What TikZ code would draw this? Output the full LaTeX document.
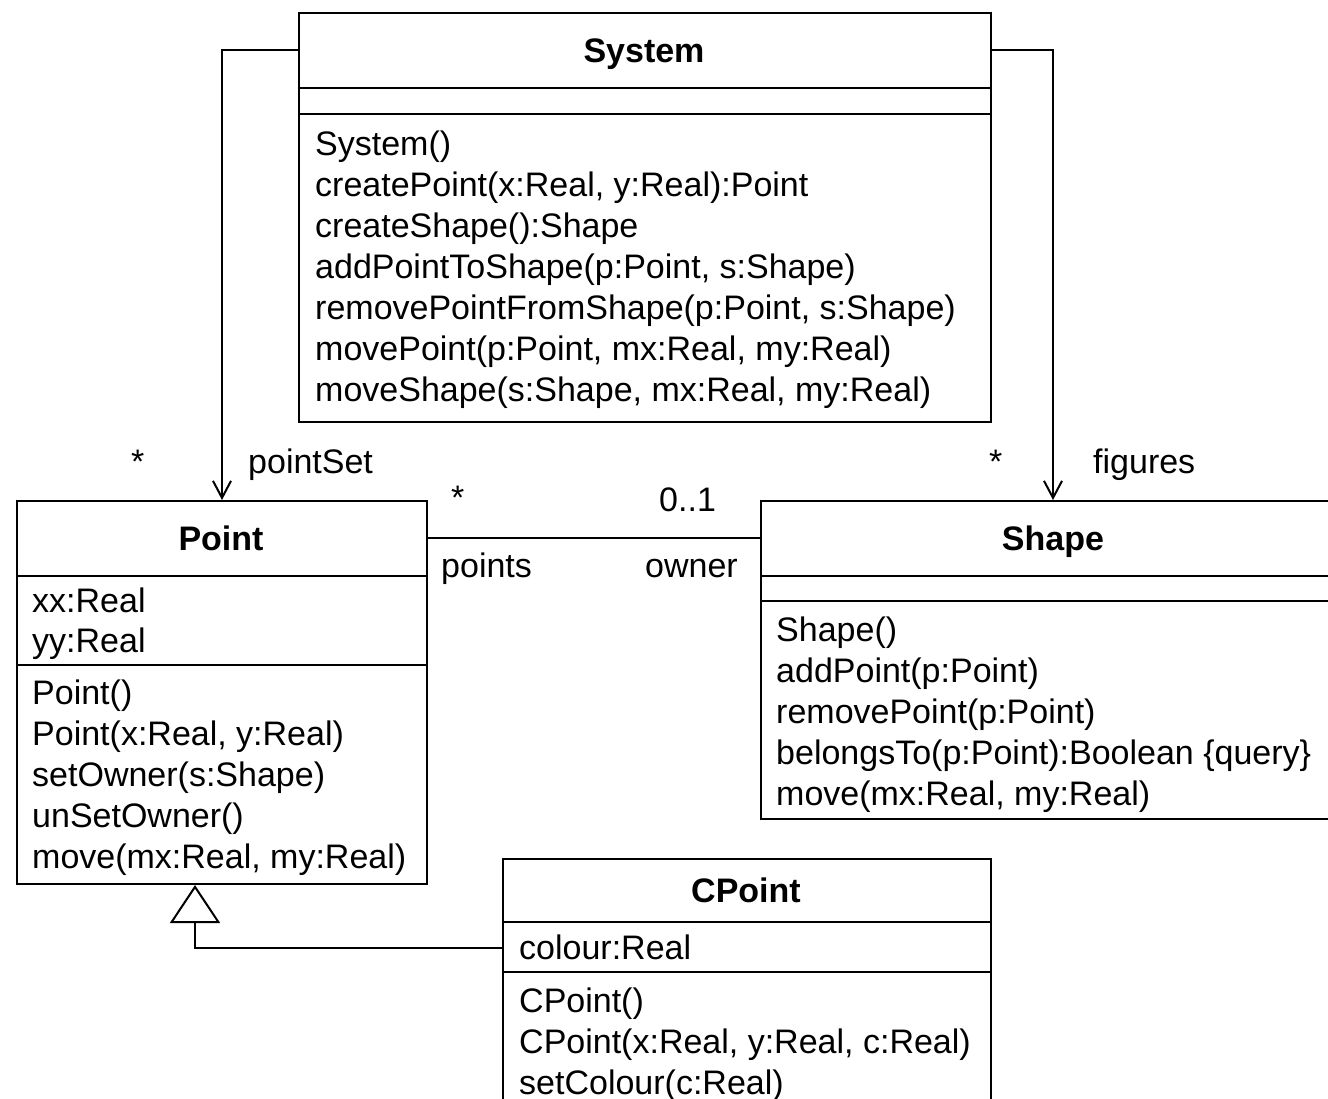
\documentclass[tikz,border=0pt]{standalone}
\usepackage{fontspec}
\setmainfont{Liberation Sans}
\usetikzlibrary{arrows.meta}
\begin{document}
\begin{tikzpicture}[x=1pt,y=-1pt,
  cls/.style={draw, line width=2pt, inner sep=0pt, anchor=north west},
  rule/.style={line width=2pt},
  txt/.style={anchor=base west, inner sep=0pt, font=\fontsize{34}{41}\selectfont},
  ttl/.style={anchor=base, inner sep=0pt, font=\fontsize{34}{41}\selectfont\bfseries},
  lbl/.style={anchor=base west, inner sep=0pt, font=\fontsize{34}{41}\selectfont},
  link/.style={line width=2pt},
  nav/.style={link, -{Straight Barb[length=17pt, width=18pt]}},
  gen/.style={link, -{Triangle[open, length=38pt, width=50pt]}}]
\useasboundingbox (0,0) rectangle (1328,1098);
\clip (0,0) rectangle (1328,1098);

% class boxes
\node[cls, minimum width=692pt, minimum height=409pt] (sys) at (298,12) {};
\node[cls, minimum width=410pt, minimum height=383pt] (pt) at (16,500) {};
\node[cls, minimum width=586pt, minimum height=318pt] (sh) at (760,500) {};
\node[cls, minimum width=488pt, minimum height=300pt] (cp) at (502,858) {};

% compartment rules
\draw[rule] (sys.west |- 0,88) -- (sys.east |- 0,88);
\draw[rule] (sys.west |- 0,114) -- (sys.east |- 0,114);
\draw[rule] (pt.west |- 0,576) -- (pt.east |- 0,576);
\draw[rule] (pt.west |- 0,665) -- (pt.east |- 0,665);
\draw[rule] (sh.west |- 0,576) -- (sh.east |- 0,576);
\draw[rule] (sh.west |- 0,601) -- (sh.east |- 0,601);
\draw[rule] (cp.west |- 0,922) -- (cp.east |- 0,922);
\draw[rule] (cp.west |- 0,972) -- (cp.east |- 0,972);

% class names
\node[ttl] (systitle) at (644,62) {System};
\node[ttl] (pttitle) at (221,550) {Point};
\node[ttl] (shtitle) at (1053,550) {Shape};
\node[ttl] (cptitle) at (746,902) {CPoint};

% System operations
\foreach \t [count=\i] in {{System()},{createPoint(x:Real, y:Real):Point},{createShape():Shape},
  {addPointToShape(p:Point, s:Shape)},{removePointFromShape(p:Point, s:Shape)},
  {movePoint(p:Point, mx:Real, my:Real)},{moveShape(s:Shape, mx:Real, my:Real)}}
  \node[txt] (sysop\i) at (315,114+41*\i) {\t};

% Point attributes and operations
\node[txt] (ptat1) at (32,612) {xx:Real};
\node[txt] (ptat2) at (32,652) {yy:Real};
\foreach \t [count=\i] in {{Point()},{Point(x:Real, y:Real)},{setOwner(s:Shape)},
  {unSetOwner()},{move(mx:Real, my:Real)}}
  \node[txt] (ptop\i) at (32,663+41*\i) {\t};

% Shape operations
\foreach \t [count=\i] in {{Shape()},{addPoint(p:Point)},{removePoint(p:Point)},
  {belongsTo(p:Point):Boolean \{query\}},{move(mx:Real, my:Real)}}
  \node[txt] (shop\i) at (776,600+41*\i) {\t};

% CPoint attribute and operations
\node[txt] (cpat1) at (519,959) {colour:Real};
\foreach \t [count=\i] in {{CPoint()},{CPoint(x:Real, y:Real, c:Real)},{setColour(c:Real)}}
  \node[txt] (cpop\i) at (519,971+41*\i) {\t};

% navigable associations from System
\draw[nav] (sys.west |- 0,50) -| (pt.north);
\draw[nav] (sys.east |- 0,50) -| (sh.north -| 1053,0);
\node[lbl] (m1) at (131,473) {*};
\node[lbl] (r1) at (248,473) {pointSet};
\node[lbl] (m2) at (989,473) {*};
\node[lbl] (r2) at (1093,473) {figures};

% Point -- Shape association
\draw[link] (pt.east |- 0,538) -- (sh.west |- 0,538);
\node[lbl] (m3) at (451,509) {*};
\node[lbl] (m4) at (659,511) {0..1};
\node[lbl] (r3) at (441,577) {points};
\node[lbl] (r4) at (645,577) {owner};

% generalization CPoint -> Point
\draw[gen] (cp.west |- 0,948) -| (pt.south -| 195,0);
\end{tikzpicture}
\end{document}
